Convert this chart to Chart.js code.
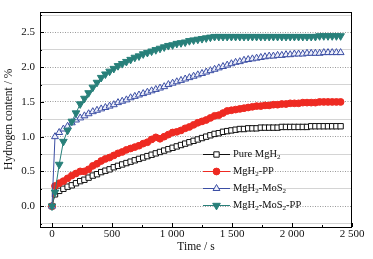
<!DOCTYPE html>
<html><head><meta charset="utf-8">
<script src="https://cdn.jsdelivr.net/npm/chart.js@4/dist/chart.umd.min.js"></script>
<style>html,body{margin:0;padding:0;background:#fff}#wrap{width:373px;height:259px}</style>
</head><body><div id="wrap"><canvas id="c" width="373" height="259"></canvas></div>
<script>
const times = [0,25,60,95,130,165,200,235,270,305,
340,375,410,445,480,515,550,585,620,655,
690,725,760,795,830,865,900,935,970,1005,
1040,1075,1110,1145,1180,1215,1250,1285,1320,1355,
1390,1425,1460,1495,1530,1565,1600,1635,1670,1705,
1740,1775,1810,1845,1880,1915,1950,1985,2020,2055,
2090,2125,2160,2195,2230,2265,2300,2335,2370,2405];
const pureMgH2 = [0,0.17,0.22,0.25,0.28,0.30,0.33,0.36,0.38,0.41,
0.44,0.46,0.49,0.51,0.53,0.56,0.58,0.60,0.62,0.64,
0.66,0.68,0.70,0.72,0.74,0.76,0.78,0.80,0.82,0.84,
0.86,0.88,0.90,0.92,0.94,0.96,0.98,1.00,1.02,1.04,
1.05,1.07,1.08,1.09,1.10,1.11,1.11,1.12,1.12,1.12,
1.13,1.13,1.13,1.13,1.13,1.14,1.14,1.14,1.14,1.14,
1.14,1.14,1.15,1.15,1.15,1.15,1.15,1.15,1.15,1.15];
const mgh2PP = [0,0.29,0.33,0.36,0.40,0.44,0.47,0.50,0.50,0.53,
0.58,0.61,0.65,0.68,0.70,0.73,0.76,0.78,0.81,0.83,
0.85,0.87,0.90,0.92,0.96,0.99,0.97,1.00,1.03,1.06,
1.07,1.09,1.12,1.14,1.17,1.20,1.22,1.24,1.27,1.30,
1.31,1.34,1.37,1.38,1.39,1.40,1.41,1.42,1.43,1.44,
1.44,1.45,1.45,1.46,1.46,1.47,1.47,1.48,1.48,1.48,
1.49,1.49,1.49,1.49,1.50,1.50,1.50,1.50,1.50,1.50];
const mgh2MoS2 = [0,1.00,1.06,1.11,1.15,1.20,1.24,1.27,1.30,1.33,
1.36,1.38,1.40,1.42,1.44,1.46,1.49,1.51,1.53,1.56,
1.58,1.60,1.62,1.64,1.66,1.68,1.70,1.72,1.75,1.77,
1.79,1.81,1.83,1.85,1.87,1.89,1.91,1.93,1.95,1.97,
1.99,2.01,2.03,2.05,2.07,2.08,2.10,2.11,2.12,2.13,
2.14,2.15,2.16,2.16,2.17,2.17,2.18,2.18,2.19,2.19,
2.19,2.20,2.20,2.20,2.20,2.21,2.21,2.21,2.21,2.21];
const mgh2MoS2PP = [0,0.20,0.60,0.93,1.09,1.22,1.34,1.47,1.55,1.63,
1.71,1.78,1.85,1.90,1.94,1.98,2.02,2.05,2.08,2.11,
2.14,2.16,2.19,2.21,2.23,2.25,2.27,2.29,2.31,2.32,
2.34,2.35,2.36,2.38,2.39,2.40,2.41,2.42,2.43,2.44,
2.44,2.44,2.44,2.44,2.44,2.44,2.44,2.44,2.44,2.44,
2.44,2.44,2.44,2.44,2.44,2.44,2.44,2.44,2.44,2.44,
2.44,2.44,2.44,2.44,2.45,2.45,2.45,2.45,2.45,2.45];
const seriesNames = [[['Pure MgH',0],['2',1]],[['MgH',0],['2',1],['-PP',0]],[['MgH',0],['2',1],['-MoS',0],['2',1]],[['MgH',0],['2',1],['-MoS',0],['2',1],['-PP',0]]];
const seriesLabels = ['Pure MgH₂','MgH₂-PP','MgH₂-MoS₂','MgH₂-MoS₂-PP'];
const xTicks = [0,500,1000,1500,2000,2500];
const xTickLabels = ['0','500','1 000','1 500','2 000','2 500'];
const xMinorTicks = [250,750,1250,1750,2250];
const yTicks = [0.0,0.5,1.0,1.5,2.0,2.5];
const yMinorTicks = [-0.25,0.25,0.75,1.25,1.75,2.25,2.75];

const FONT = "'Liberation Serif','Times New Roman',serif";
function pts(arr){ return times.map((t,i)=>({x:t,y:arr[i]})); }

const styles = [
  {color:'#111111', pointStyle:'rect', radius:3.8, bg:'#ffffff', rot:0},
  {color:'#ee2a22', pointStyle:'circle', radius:3.4, bg:'#ee2a22', rot:0},
  {color:'#3b4ea4', pointStyle:'triangle', radius:4, bg:'#eef0fa', rot:0},
  {color:'#28807a', pointStyle:'triangle', radius:4.4, bg:'#28807a', rot:180}
];
const dataArrays = [pureMgH2, mgh2PP, mgh2MoS2, mgh2MoS2PP];
const datasets = dataArrays.map((a,i)=>({
  label: seriesLabels[i],
  data: pts(a),
  borderColor: styles[i].color,
  backgroundColor: styles[i].bg,
  borderWidth: 1,
  pointStyle: styles[i].pointStyle,
  pointRadius: styles[i].radius,
  pointRotation: styles[i].rot,
  pointBorderColor: styles[i].color,
  pointBackgroundColor: styles[i].bg,
  pointBorderWidth: 1,
  tension: 0,
  order: [4,3,2,1][i]
}));

function drawMarker(ctx, st, x, y){
  ctx.save();
  ctx.translate(x,y);
  ctx.rotate(st.rot*Math.PI/180);
  ctx.beginPath();
  const r = st.radius;
  if(st.pointStyle==='rect'){ const s=Math.SQRT1_2*r; ctx.rect(-s,-s,2*s,2*s); }
  else if(st.pointStyle==='circle'){ ctx.arc(0,0,r,0,Math.PI*2); }
  else { let a=0; ctx.moveTo(Math.sin(a)*r,-Math.cos(a)*r); a+=2*Math.PI/3; ctx.lineTo(Math.sin(a)*r,-Math.cos(a)*r); a+=2*Math.PI/3; ctx.lineTo(Math.sin(a)*r,-Math.cos(a)*r); ctx.closePath(); }
  ctx.fillStyle = st.bg; ctx.fill();
  ctx.lineWidth = 1; ctx.strokeStyle = st.color; ctx.stroke();
  ctx.restore();
}

const framePlugin = {
  id:'frame',
  afterDatasetsDraw(chart){
    const {ctx, chartArea:a, scales} = chart;
    ctx.save();
    ctx.strokeStyle = '#000'; ctx.lineWidth = 1;
    ctx.strokeRect(Math.round(a.left)+0.5, Math.round(a.top)+0.5, Math.round(a.right-a.left)-1, Math.round(a.bottom-a.top));
    const xs = scales.x, ys = scales.y;
    ctx.beginPath();
    xTicks.forEach(v=>{ const p=Math.round(xs.getPixelForValue(v))+0.5; ctx.moveTo(p,a.bottom); ctx.lineTo(p,a.bottom-4); });
    xMinorTicks.forEach(v=>{ const p=Math.round(xs.getPixelForValue(v))+0.5; ctx.moveTo(p,a.bottom); ctx.lineTo(p,a.bottom-2); });
    yTicks.forEach(v=>{ const p=Math.round(ys.getPixelForValue(v))+0.5; ctx.moveTo(a.left,p); ctx.lineTo(a.left+4,p); });
    yMinorTicks.forEach(v=>{ const p=Math.round(ys.getPixelForValue(v))+0.5; ctx.moveTo(a.left,p); ctx.lineTo(a.left+2,p); });
    ctx.stroke();
    const lx0 = 203, lx1 = 230, tx = 233, rowY = [154,171,188,205];
    styles.forEach((st,i)=>{
      const y = rowY[i]+0.5;
      ctx.beginPath(); ctx.strokeStyle = st.color; ctx.lineWidth = 1;
      ctx.moveTo(lx0,y); ctx.lineTo(lx1,y); ctx.stroke();
      drawMarker(ctx, st, (lx0+lx1)/2, y);
      let x = tx;
      ctx.fillStyle = '#111'; ctx.textBaseline = 'middle'; ctx.textAlign = 'left';
      seriesNames[i].forEach(([t,sub])=>{
        ctx.font = (sub? '7px ' : '10.5px ') + FONT;
        ctx.fillText(t, x, sub ? y+3 : y);
        x += ctx.measureText(t).width;
      });
    });
    ctx.restore();
  }
};

new Chart(document.getElementById('c'), {
  type:'line',
  data:{datasets},
  options:{
    responsive:false, animation:false, devicePixelRatio:1,
    layout:{padding:{top:8,right:21,bottom:0,left:0}},
    plugins:{legend:{display:false}, tooltip:{enabled:false}},
    scales:{
      x:{type:'linear', min:-100, max:2500,
        afterBuildTicks(s){ s.ticks = xTicks.map(v=>({value:v})); },
        afterFit(s){ s.height = 32; },
        ticks:{ padding:1, color:'#111', font:{family:FONT,size:11}, maxRotation:0, autoSkip:false,
          callback(v){ const k = xTicks.indexOf(v); return k>=0 ? xTickLabels[k] : ''; } },
        grid:{display:false, drawTicks:false},
        border:{display:false},
        title:{display:true, text:'Time / s', color:'#111', font:{family:FONT,size:11.5}, padding:{top:0,bottom:5}}
      },
      y:{type:'linear', min:-0.3, max:2.8, position:'left',
        afterBuildTicks(s){ s.ticks = yTicks.map(v=>({value:v})); },
        afterFit(s){ s.width = 40; },
        ticks:{ padding:5, color:'#111', font:{family:FONT,size:11}, callback(v){ return v.toFixed(1); } },
        grid:{color:'#9a9a9a', lineWidth:1, drawTicks:false},
        border:{display:false, dash:[1,1.5]},
        title:{display:true, text:'Hydrogen content / %', color:'#111', font:{family:FONT,size:11.5}, padding:{top:2,bottom:0}}
      },
      yMinor:{type:'linear', min:-0.3, max:2.8, position:'left', display:true,
        afterBuildTicks(s){ s.ticks = yMinorTicks.map(v=>({value:v})); },
        afterFit(s){ s.width = 0; },
        ticks:{display:false},
        grid:{color:'#d4d4d4', lineWidth:1, drawTicks:false},
        border:{display:false}
      }
    }
  },
  plugins:[framePlugin]
});
</script>
</body></html>
